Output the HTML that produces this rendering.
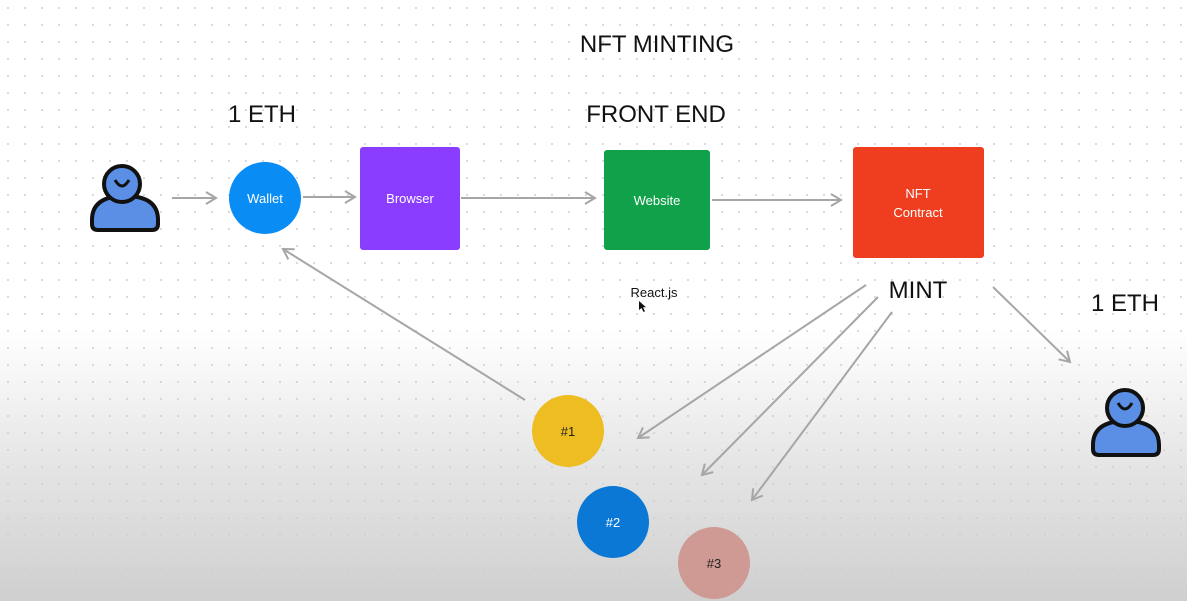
<!DOCTYPE html>
<html><head><style>
html,body{margin:0;padding:0;width:1187px;height:601px;overflow:hidden;}
body{background:linear-gradient(to bottom,#fff 0,#fff 330px,#e6e6e6 460px,#cfcfcf 601px);}
svg{position:absolute;left:0;top:0;font-family:"Liberation Sans",sans-serif;}
</style></head><body>
<svg width="1187" height="601" viewBox="0 0 1187 601">
<defs>
<pattern id="d" width="17" height="17" patternUnits="userSpaceOnUse"><circle cx="8" cy="8" r="1" fill="#cfcfcf"/></pattern>
<marker id="a" markerWidth="14" markerHeight="14" refX="12" refY="7" orient="auto" markerUnits="userSpaceOnUse"><path d="M2,1 L12,7 L2,13" fill="none" stroke="#a6a6a6" stroke-width="2"/></marker>
</defs>
<rect width="1187" height="601" fill="url(#d)"/>
<g fill="#111" text-anchor="middle" font-size="24">
<text x="657" y="52">NFT MINTING</text>
<text x="262" y="122">1 ETH</text>
<text x="656" y="122">FRONT END</text>
<text x="918" y="298">MINT</text>
<text x="1125" y="311">1 ETH</text>
</g>
<text x="654" y="297" font-size="13" text-anchor="middle" fill="#111">React.js</text>
<path d="M639,301 l0,9 l2.5,-2 l2,4 l1.5,-0.7 l-2,-4 l3,0 z" fill="#111"/>
<g stroke="#a6a6a6" stroke-width="2" fill="none" marker-end="url(#a)">
<line x1="172" y1="198" x2="216" y2="198"/>
<line x1="303" y1="197" x2="355" y2="197"/>
<line x1="461" y1="198" x2="595" y2="198"/>
<line x1="712" y1="200" x2="841" y2="200"/>
<line x1="993" y1="287" x2="1070" y2="362"/>
<line x1="525" y1="400" x2="283" y2="249"/>
<line x1="866" y1="285" x2="638" y2="438"/>
<line x1="878" y1="297" x2="702" y2="475"/>
<line x1="892" y1="312" x2="752" y2="500"/>
</g>
<g stroke="#111" stroke-width="4" fill="#5b8fe6" stroke-linejoin="round">
<path d="M98,230 Q92,230 92,224 L92,220 Q92,196 125,196 Q158,196 158,220 L158,224 Q158,230 152,230 Z"/>
<circle cx="122" cy="184" r="18"/>
<path d="M115,180 Q122,192 129,180" fill="none" stroke-width="3"/>
<path d="M1099,455 Q1093,455 1093,449 L1093,445 Q1093,421 1126,421 Q1159,421 1159,445 L1159,449 Q1159,455 1153,455 Z"/>
<circle cx="1125" cy="408" r="18"/>
<path d="M1118,403 Q1125,415 1132,403" fill="none" stroke-width="3"/>
</g>
<circle cx="265" cy="198" r="36" fill="#0a8cf5"/>
<rect x="360" y="147" width="100" height="103" rx="3" fill="#8b3dff"/>
<rect x="604" y="150" width="106" height="100" rx="3" fill="#11a14a"/>
<rect x="853" y="147" width="131" height="111" rx="3" fill="#ef3e1f"/>
<circle cx="568" cy="431" r="36" fill="#eebd22"/>
<circle cx="613" cy="522" r="36" fill="#0a78d4"/>
<circle cx="714" cy="563" r="36" fill="#cf9994"/>
<g fill="#fff" font-size="13" text-anchor="middle">
<text x="265" y="203">Wallet</text>
<text x="410" y="203">Browser</text>
<text x="657" y="205">Website</text>
<text x="918" y="198">NFT</text>
<text x="918" y="217">Contract</text>
<text x="613" y="527">#2</text>
</g>
<g fill="#222" font-size="13" text-anchor="middle">
<text x="568" y="436">#1</text>
<text x="714" y="568">#3</text>
</g>
</svg>
</body></html>
